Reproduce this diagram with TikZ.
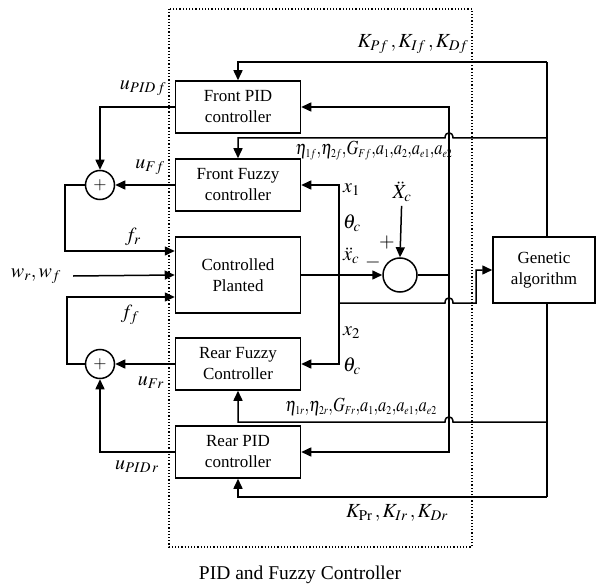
\documentclass[tikz,border=0pt]{standalone}
\usepackage{amsmath}
\usepackage{mathptmx}
\usepackage{fontspec}
\setmainfont{Liberation Serif}
\usetikzlibrary{arrows.meta, positioning, calc}

\begin{document}
\begin{tikzpicture}[x=1pt,y=-1pt,font=\fontsize{17}{21}\selectfont,
  blk/.style={draw,line width=1.5pt,minimum width=125pt,minimum height=52pt,align=center,inner sep=1pt},
  sumc/.style={draw,circle,line width=1.5pt,minimum size=29pt,inner sep=0pt},
  sig/.style={line width=1.5pt},
  arr/.style={sig,-{Triangle[length=10pt,width=9pt]}},
  lbl/.style={inner sep=0pt,font=\fontsize{20}{24}\selectfont}]
  \useasboundingbox (0,0) rectangle (596,585);
  \draw[dotted,line width=1.2pt] (169,9) rectangle (472,547);
  \node[blk] (fpid) at (238,107) {Front PID\\controller};
  \node[blk] (ffz) at (238,185) {Front Fuzzy\\controller};
  \node[blk,minimum height=76pt] (plant) at (238,275) {Controlled\\Planted};
  \node[blk] (rfz) at (238,364) {Rear Fuzzy\\Controller};
  \node[blk] (rpid) at (238,452) {Rear PID\\controller};
  \node[blk,minimum width=102pt,minimum height=66pt] (ga) at (544,270) {Genetic\\algorithm};
  \node[sumc] (sf) at (100,185) {$+$};
  \node[sumc] (sr) at (100,364) {$+$};
  \node[sumc,minimum size=34pt] (err) at (400,275) {};
  \coordinate (kf) at (547,62);
  \coordinate (gf) at (547,138);
  \coordinate (gr) at (547,422);
  \coordinate (kr) at (547,497);
  \coordinate (eb) at (449,275);
  \coordinate (pb) at (339,303);
  \coordinate (fr) at ([yshift=24pt]plant.west);
  \coordinate (ff) at ([yshift=-22pt]plant.west);
  \node[lbl] (upidf) at (143,88) {$u_{PID\,f}$};
  \node[lbl] (uff) at (150,167) {$u_{Ff}$};
  \node[lbl] (frl) at (133,237) {$f_r$};
  \node[lbl] (w) at (36,276) {$w_r,w_f$};
  \node[lbl] (ffl) at (130,315) {$f_f$};
  \node[lbl] (ufr) at (151,383) {$u_{Fr}$};
  \node[lbl] (upidr) at (137,467) {$u_{PID\,r}$};
  \node[lbl] (kfl) at (413,44) {$K_{Pf}\,,K_{If}\,,K_{Df}$};
  \node[lbl] (etaf) at (374,151) {\scalebox{0.82}[1]{$\eta_{\scriptscriptstyle 1f}{,}\eta_{\scriptscriptstyle 2f}{,}G_{\scriptscriptstyle Ff}{,}a_{\scriptscriptstyle 1}{,}a_{\scriptscriptstyle 2}{,}a_{\scriptscriptstyle e1}{,}a_{\scriptscriptstyle e2}$}};
  \node[lbl] (etar) at (361,407) {\scalebox{0.82}[1]{$\eta_{\scriptscriptstyle 1r}{,}\eta_{\scriptscriptstyle 2r}{,}G_{\scriptscriptstyle Fr}{,}a_{\scriptscriptstyle 1}{,}a_{\scriptscriptstyle 2}{,}a_{\scriptscriptstyle e1}{,}a_{\scriptscriptstyle e2}$}};
  \node[lbl] (krl) at (397,513) {$K_{\mathrm{Pr}}\,,K_{Ir}\,,K_{Dr}$};
  \node[lbl,anchor=west] (x1) at (343,190) {$x_1$};
  \node[lbl,anchor=west] (th1) at (343,223) {$\theta_c$};
  \node[lbl,anchor=west] (xcdd) at (343,256) {$\ddot{x}_c$};
  \node[lbl,anchor=west] (x2) at (343,333) {$x_2$};
  \node[lbl,anchor=west] (th2) at (343,366) {$\theta_c$};
  \node[lbl] (mns) at (373,262) {$-$};
  \node[lbl] (pls) at (387,243) {$+$};
  \node[lbl,outer sep=4pt] (xc) at (402,192) {$\ddot{X}_c$};
  \node[lbl] (ttl) at (300,575) {\fontsize{19.5}{22}\selectfont PID and Fuzzy Controller};
  \draw[sig] (ga.north -| kf) -- (kf);
  \draw[arr] (kf) -| (fpid.north);
  \draw[arr] (gf) -- (453,138) .. controls (453,131) and (445,131) .. (445,138) -| (ffz.north);
  \draw[sig] (ga.south -| kr) -- (kr);
  \draw[arr] (gr) -- (453,422) .. controls (453,415) and (445,415) .. (445,422) -| (rfz.south);
  \draw[arr] (kr) -| (rpid.south);
  \draw[arr] (plant.east) -- (err.west);
  \draw[sig] (err.east) -- (eb);
  \draw[arr] (eb) |- (fpid.east);
  \draw[arr] (eb) |- (rpid.east);
  \draw[arr] (pb) |- (ffz.east);
  \draw[arr] (pb) |- (rfz.east);
  \draw[arr] (pb) -- (445,303) .. controls (445,296) and (453,296) .. (453,303) -- (476,303) |- (ga.west);
  \draw[arr] (xc) -- (err.north);
  \draw[arr] (fpid.west) -| (sf.north);
  \draw[arr] (ffz.west) -- (sf.east);
  \draw[arr] (sf.west) -- ++(-20,0) |- (fr);
  \draw[arr] ([xshift=12pt]w.east) -- (plant.west);
  \draw[arr] (sr.west) -- ++(-18,0) |- (ff);
  \draw[arr] (rfz.west) -- (sr.east);
  \draw[arr] (rpid.west) -| (sr.south);
\end{tikzpicture}
\end{document}
